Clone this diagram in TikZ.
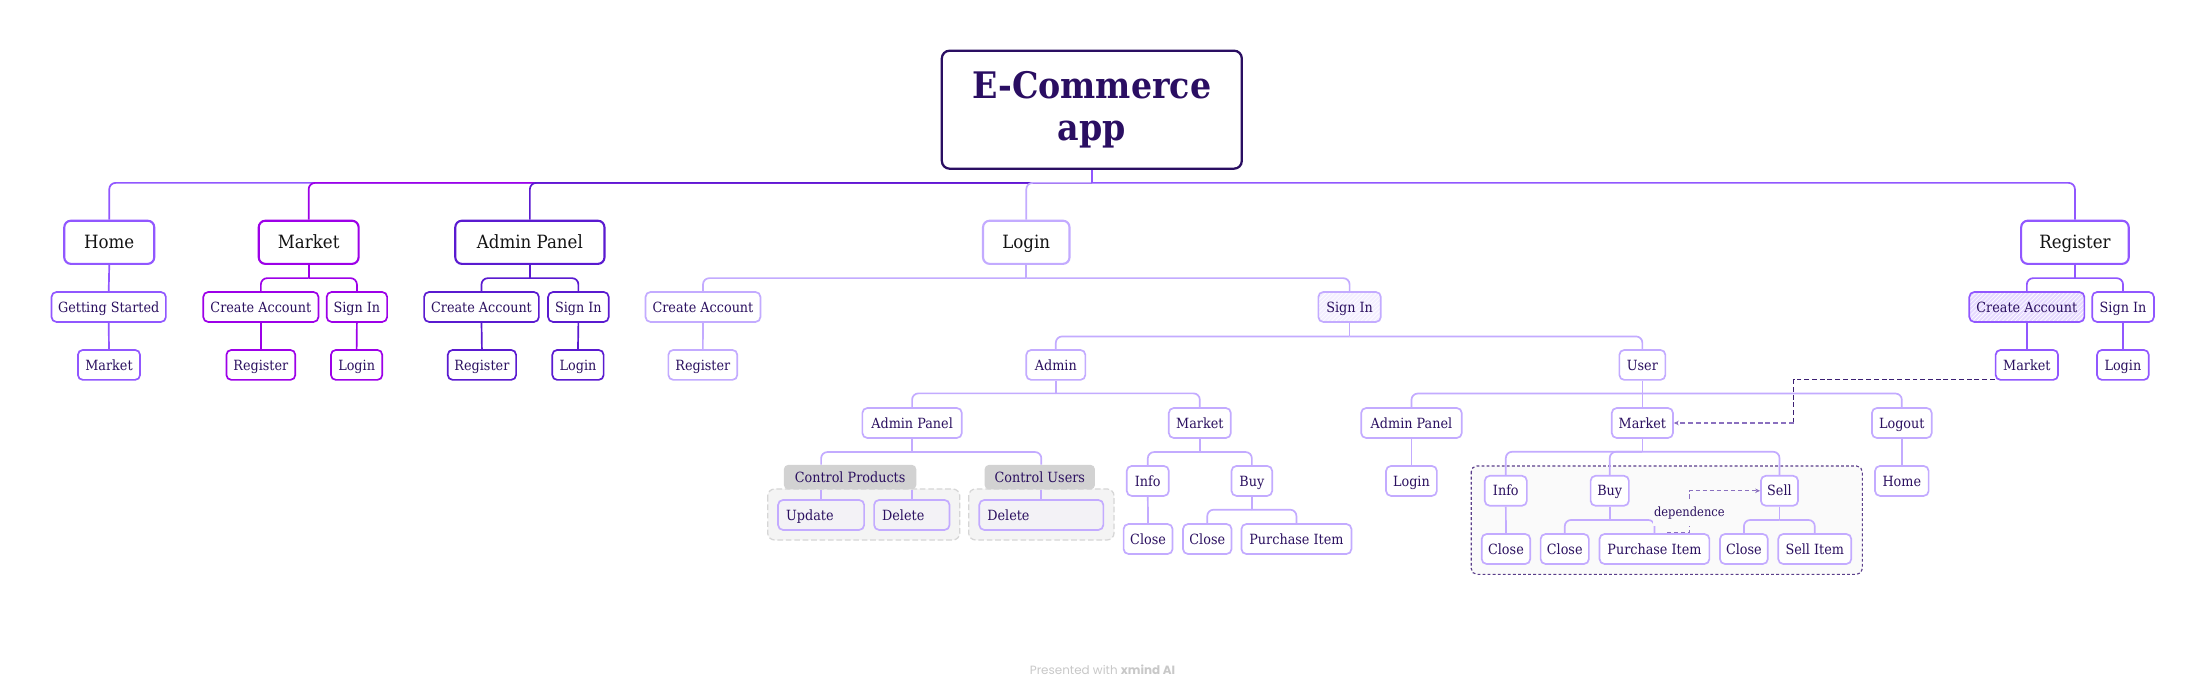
\documentclass[tikz,border=0pt]{standalone}
\usepackage{fontspec}
\setmainfont{DejaVu Serif}[FakeStretch=0.91]
\newfontfamily\footfont{Poppins}
\usetikzlibrary{patterns,arrows.meta}
\definecolor{cHome}{HTML}{9157FF}
\definecolor{cMkt}{HTML}{9D00E8}
\definecolor{cAdm}{HTML}{5A1AD0}
\definecolor{cLog}{HTML}{C3ABFF}
\definecolor{cRoot}{HTML}{2A0E62}
\definecolor{txt}{HTML}{2B1060}
\definecolor{depc}{HTML}{8A70BF}
\definecolor{darkdash}{HTML}{3B1F73}
\definecolor{hatchA}{HTML}{E6DAFF}
\definecolor{hatchB}{HTML}{F3EEFF}
\definecolor{grpfill}{HTML}{F4F4F4}
\definecolor{grpline}{HTML}{D6D6D6}
\definecolor{glab}{HTML}{D2D2D2}
\definecolor{ugrpfill}{HTML}{FAFAFA}
\definecolor{ugrpline}{HTML}{5A3D8A}
\definecolor{innerfill}{HTML}{F3F2F6}
\definecolor{footc}{HTML}{C8C8C8}
\begin{document}
\begin{tikzpicture}[x=1pt,y=-1pt,
  base/.style={draw, rounded corners=3.5pt, line width=1.2pt, fill=white, text=txt,
    font=\fontsize{10}{12}\selectfont, inner sep=0pt, minimum height=21.3pt,
    text height=8.3pt, text depth=1pt},
  lone/.style={base, rounded corners=4.7pt, line width=1.5pt, minimum height=30.7pt,
    text=black!92, font=\fontsize{13}{15}\selectfont, text height=10.5pt, text depth=1pt},
  rootbox/.style={draw=cRoot, line width=1.6pt, rounded corners=5.5pt, fill=white,
    minimum width=213.3pt, minimum height=83.9pt, align=center, text=cRoot,
    font=\fontsize{26}{29.6}\selectfont\bfseries, inner sep=0pt},
  hatchedA/.style={fill=none, preaction={fill=hatchA}, preaction={pattern=north east lines, pattern color=white}},
  hatchedB/.style={fill=none, preaction={fill=hatchB}, preaction={pattern=north east lines, pattern color=white}},
  con/.style={line width=1.2pt, rounded corners=4.5pt},
  grp/.style={fill=grpfill, draw=grpline, line width=0.9pt, dash pattern=on 4pt off 2pt, rounded corners=5pt},
  ugrp/.style={fill=ugrpfill, draw=ugrpline, line width=0.8pt, dash pattern=on 2pt off 1.6pt, rounded corners=4pt},
  glabel/.style={fill=glab, rounded corners=3pt, minimum height=17.4pt, text=txt,
    font=\fontsize{10}{12}\selectfont, inner sep=0pt, text height=8.3pt, text depth=1pt},
  inbox/.style={base, draw=cLog, fill=innerfill, align=left, inner xsep=5.7pt},
  dep/.style={draw=depc, line width=1pt, dash pattern=on 3pt off 2pt, -{Stealth[length=3.5pt,width=3.2pt]}},
]
\fill[white] (0,0) rectangle (1568,494.2);
\useasboundingbox (0,0) rectangle (1568,494.2);

% group boxes
\draw[grp] (545.9,347.7) rectangle (682.5,384);
\draw[grp] (688.8,347.7) rectangle (792.2,384);
\draw[ugrp] (1046.2,331.4) rectangle (1324.3,408.4);

% root
\node[rootbox] (root) at (776.4,78) {E-Commerce\\app};

% level 1
\node[lone, draw=cHome, minimum width=64pt] (home) at (77.7,172.3) {Home};
\node[lone, draw=cMkt, minimum width=71pt] (mkt) at (219.5,172.3) {Market};
\node[lone, draw=cAdm, minimum width=106.1pt] (adp) at (376.8,172.3) {Admin Panel};
\node[lone, draw=cLog, minimum width=61.5pt] (log) at (729.8,172.3) {Login};
\node[lone, draw=cHome, minimum width=76.5pt] (reg) at (1475.5,172.3) {Register};

% row A
\node[base, draw=cHome, minimum width=81.3pt] (gs) at (77.3,218.3) {Getting Started};
\node[base, draw=cMkt, minimum width=81.9pt] (mca) at (185.5,218.3) {Create Account};
\node[base, draw=cMkt, minimum width=43pt] (msi) at (253.8,218.3) {Sign In};
\node[base, draw=cAdm, minimum width=81.6pt] (aca) at (342.4,218.3) {Create Account};
\node[base, draw=cAdm, minimum width=43.1pt] (asi) at (411.3,218.3) {Sign In};
\node[base, draw=cLog, minimum width=81.7pt] (lca) at (499.9,218.3) {Create Account};
\node[base, draw=cLog, hatchedB, minimum width=44.4pt] (lsi) at (959.7,218.3) {Sign In};
\node[base, draw=cHome, hatchedA, minimum width=81.8pt] (rca) at (1441.3,218.3) {Create Account};
\node[base, draw=cHome, minimum width=43.9pt] (rsi) at (1509.7,218.3) {Sign In};

% row B
\node[base, draw=cHome, minimum width=44.2pt] (hm) at (77.5,259.5) {Market};
\node[base, draw=cMkt, minimum width=49pt] (mreg) at (185.5,259.5) {Register};
\node[base, draw=cMkt, minimum width=36.5pt] (mlog) at (253.6,259.5) {Login};
\node[base, draw=cAdm, minimum width=48.6pt] (areg) at (342.7,259.5) {Register};
\node[base, draw=cAdm, minimum width=36.5pt] (alog) at (411,259.5) {Login};
\node[base, draw=cLog, minimum width=49pt] (lreg) at (499.8,259.5) {Register};
\node[base, draw=cLog, minimum width=42pt] (adm) at (750.8,259.5) {Admin};
\node[base, draw=cLog, minimum width=32.7pt] (usr) at (1167.9,259.5) {User};
\node[base, draw=cHome, minimum width=44.4pt] (rmk) at (1441.3,259.5) {Market};
\node[base, draw=cHome, minimum width=36.8pt] (rlog) at (1509.6,259.5) {Login};

% row C
\node[base, draw=cLog, minimum width=70.7pt] (aap) at (648.6,300.8) {Admin Panel};
\node[base, draw=cLog, minimum width=44.1pt] (amk) at (853.2,300.8) {Market};
\node[base, draw=cLog, minimum width=71.5pt] (uap) at (1003.7,300.8) {Admin Panel};
\node[base, draw=cLog, minimum width=43.5pt] (umk) at (1167.9,300.8) {Market};
\node[base, draw=cLog, minimum width=42.5pt] (ulo) at (1352.4,300.8) {Logout};

% admin panel groups
\node[glabel, minimum width=94.1pt] (cp) at (604.5,339.3) {Control Products};
\node[glabel, minimum width=78.4pt] (cu) at (739.4,339.3) {Control Users};
\node[inbox, text width=49.8pt] (upd) at (583.9,366.2) {Update};
\node[inbox, text width=42.2pt] (del1) at (648.4,366.2) {Delete};
\node[inbox, text width=76.8pt] (del2) at (740.5,366.2) {Delete};

% admin market
\node[base, draw=cLog, minimum width=29.9pt] (ainf) at (816.2,342) {Info};
\node[base, draw=cLog, minimum width=28.9pt] (abuy) at (890.2,342) {Buy};
\node[base, draw=cLog, minimum width=34.8pt] (aicl) at (816.4,383.3) {Close};
\node[base, draw=cLog, minimum width=34.5pt] (abcl) at (858.5,383.3) {Close};
\node[base, draw=cLog, minimum width=78.2pt] (apur) at (921.9,383.3) {Purchase Item};

% user side
\node[base, draw=cLog, minimum width=36.1pt] (ulg) at (1003.7,342) {Login};
\node[base, draw=cLog, minimum width=38.1pt] (uhm) at (1352.4,342) {Home};
\node[base, draw=cLog, minimum width=29.9pt] (uinf) at (1070.8,349) {Info};
\node[base, draw=cLog, minimum width=27.2pt] (ubuy) at (1144.7,349) {Buy};
\node[base, draw=cLog, minimum width=26.4pt] (usel) at (1265.4,349) {Sell};
\node[base, draw=cLog, minimum width=34.5pt] (uicl) at (1070.9,390.4) {Close};
\node[base, draw=cLog, minimum width=34.3pt] (ubcl) at (1112.7,390.4) {Close};
\node[base, draw=cLog, minimum width=78.1pt] (upur) at (1176.5,390.4) {Purchase Item};
\node[base, draw=cLog, minimum width=34pt] (uscl) at (1240.1,390.4) {Close};
\node[base, draw=cLog, minimum width=51.9pt] (usit) at (1290.5,390.4) {Sell Item};

% ---- connectors
\coordinate (rj) at ([yshift=-9.3pt]root.south);
\draw[con, cHome] (rj) -| (home.north);
\draw[con, cMkt] (rj) -| (mkt.north);
\draw[con, cAdm] (rj) -| (adp.north);
\draw[con, cLog] (rj) -| (log.north);
\draw[con, cHome] (rj) -| (reg.north);
\draw[con, cHome] (root.south) -- (rj);

\draw[con, cHome] (home.south) -- (gs.north);
\draw[con, cHome] (gs.south) -- (hm.north);

\coordinate (jm) at ([yshift=-9.4pt]mkt.south);
\draw[con, cMkt] (mkt.south) -- (jm);
\draw[con, cMkt] (jm) -| (mca.north);
\draw[con, cMkt] (jm) -| (msi.north);
\draw[con, cMkt] (mca.south) -- (mreg.north);
\draw[con, cMkt] (msi.south) -- (mlog.north);

\coordinate (ja) at ([yshift=-9.4pt]adp.south);
\draw[con, cAdm] (adp.south) -- (ja);
\draw[con, cAdm] (ja) -| (aca.north);
\draw[con, cAdm] (ja) -| (asi.north);
\draw[con, cAdm] (aca.south) -- (areg.north);
\draw[con, cAdm] (asi.south) -- (alog.north);

\coordinate (jr) at ([yshift=-9.4pt]reg.south);
\draw[con, cHome] (reg.south) -- (jr);
\draw[con, cHome] (jr) -| (rca.north);
\draw[con, cHome] (jr) -| (rsi.north);
\draw[con, cHome] (rca.south) -- (rmk.north);
\draw[con, cHome] (rsi.south) -- (rlog.north);

\coordinate (jl) at ([yshift=-9.4pt]log.south);
\draw[con, cLog] (log.south) -- (jl);
\draw[con, cLog] (jl) -| (lca.north);
\draw[con, cLog] (jl) -| (lsi.north);
\draw[con, cLog] (lca.south) -- (lreg.north);

\coordinate (jsi) at ([yshift=-9.7pt]lsi.south);
\draw[con, cLog] (lsi.south) -- (jsi);
\draw[con, cLog] (jsi) -| (adm.north);
\draw[con, cLog] (jsi) -| (usr.north);

\coordinate (jad) at ([yshift=-9pt]adm.south);
\draw[con, cLog] (adm.south) -- (jad);
\draw[con, cLog] (jad) -| (aap.north);
\draw[con, cLog] (jad) -| (amk.north);

\coordinate (jus) at ([yshift=-9.1pt]usr.south);
\draw[con, cLog] (usr.south) -- (umk.north);
\draw[con, cLog] (jus) -| (uap.north);
\draw[con, cLog] (jus) -| (ulo.north);

\coordinate (jap) at ([yshift=-9.4pt]aap.south);
\draw[con, cLog] (aap.south) -- (jap);
\draw[con, cLog] (jap) -| (cp.north -| upd.north);
\draw[con, cLog] (jap) -| (cu.north -| del2.north);
\draw[con, cLog] (cp.south -| upd.north) -- (upd.north);
\draw[con, cLog] (cp.south -| del1.north) -- (del1.north);
\draw[con, cLog] (cu.south -| del2.north) -- (del2.north);

\coordinate (jam) at ([yshift=-9.4pt]amk.south);
\draw[con, cLog] (amk.south) -- (jam);
\draw[con, cLog] (jam) -| (ainf.north);
\draw[con, cLog] (jam) -| (abuy.north);
\draw[con, cLog] (ainf.south) -- (aicl.north);
\coordinate (jab) at ([yshift=-9.2pt]abuy.south);
\draw[con, cLog] (abuy.south) -- (jab);
\draw[con, cLog] (jab) -| (abcl.north);
\draw[con, cLog] (jab) -| (apur.north);

\draw[con, cLog] (uap.south) -- (ulg.north);
\draw[con, cLog] (ulo.south) -- (uhm.north);

\coordinate (jum) at ([yshift=-9.2pt]umk.south);
\draw[con, cLog] (umk.south) -- (jum);
\draw[con, cLog] (jum) -| (uinf.north);
\draw[con, cLog] (jum) -| (ubuy.north);
\draw[con, cLog] (jum) -| (usel.north);
\draw[con, cLog] (uinf.south) -- (uicl.north);
\coordinate (jub) at ([yshift=-9.5pt]ubuy.south);
\draw[con, cLog] (ubuy.south) -- (jub);
\draw[con, cLog] (jub) -| (ubcl.north);
\draw[con, cLog] (jub) -| (upur.north);
\coordinate (jul) at ([yshift=-9.5pt]usel.south);
\draw[con, cLog] (usel.south) -- (jul);
\draw[con, cLog] (jul) -| (uscl.north);
\draw[con, cLog] (jul) -| (usit.north);

% dependence arrow
\coordinate (ds) at ([xshift=9pt,yshift=0.4pt]upur.north);
\draw[dep] (ds) -- ++(15.8,0) |- (usel.west);
\node[font=\fontsize{9}{10}\selectfont, text=txt, fill=ugrpfill, inner xsep=1pt, inner ysep=5pt] (dl) at (1201.3,364.6) {dependence};

% cross link Register/Market -> User/Market
\coordinate (dj) at ([xshift=-143.1pt,yshift=1pt]rmk.south west);
\draw[darkdash, line width=0.8pt, dash pattern=on 3.5pt off 2pt] ([yshift=1pt]rmk.south west) -- (dj) -- (dj |- umk.east);
\draw[depc, line width=1.1pt, dash pattern=on 3.5pt off 2pt, -{Stealth[length=3.5pt,width=3.2pt]}] (dj |- umk.east) -- (umk.east);

% footer
\node[font=\footfont\fontsize{8.5}{10}\selectfont, text=footc] (foot) at (784,476) {Presented with \textbf{xmind AI}};
\end{tikzpicture}
\end{document}
